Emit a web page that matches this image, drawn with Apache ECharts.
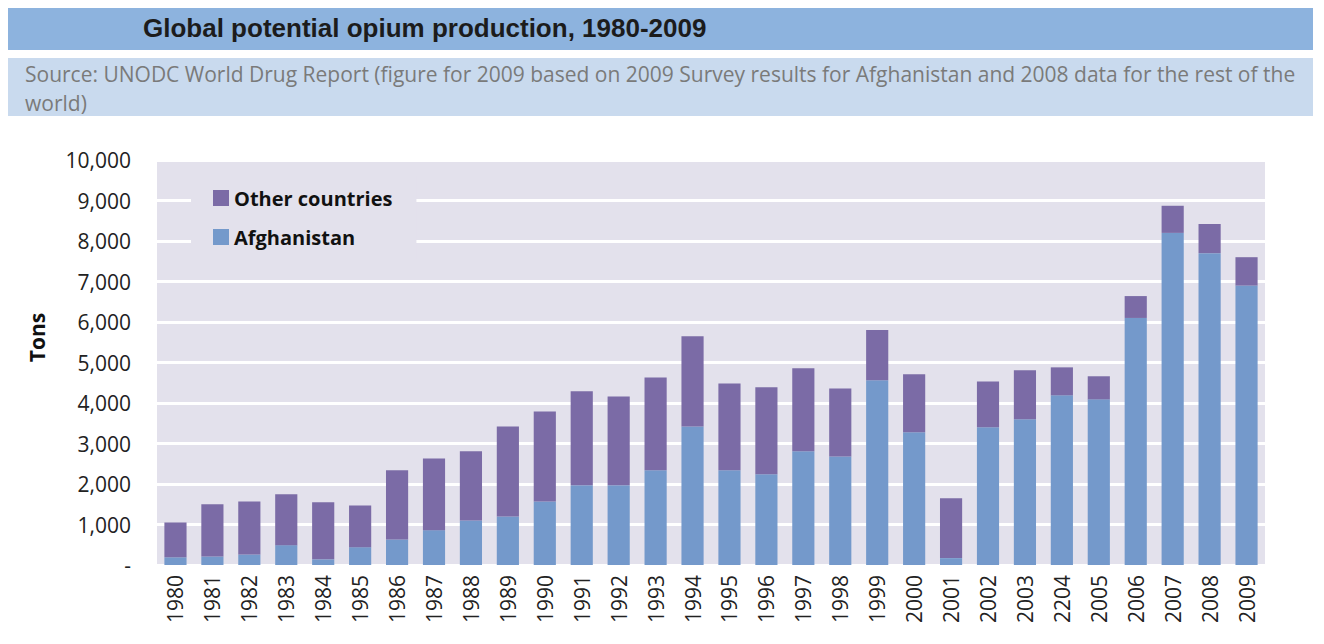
<!DOCTYPE html>
<html>
<head>
<meta charset="utf-8">
<script src="https://cdn.jsdelivr.net/npm/echarts@6/dist/echarts.min.js"></script>
<style>
  html, body { margin: 0; padding: 0; background: #fff; }
  #chart { width: 1324px; height: 644px; }
</style>
</head>
<body>
<div id="chart"></div>
<script>
// years (the source labels 2004 as "2204")
var years = ['1980','1981','1982','1983','1984','1985','1986','1987','1988','1989',
  '1990','1991','1992','1993','1994','1995','1996','1997','1998','1999',
  '2000','2001','2002','2003','2204','2005','2006','2007','2008','2009'];

// tons
var afghanistan = [190, 210, 260, 490, 140, 440, 630, 860, 1100, 1200,
  1570, 1970, 1970, 2340, 3420, 2340, 2240, 2810, 2680, 4560,
  3280, 170, 3400, 3600, 4190, 4090, 6100, 8200, 7700, 6900];
var otherCountries = [860, 1290, 1310, 1260, 1410, 1030, 1710, 1770, 1710, 2220,
  2220, 2320, 2190, 2290, 2230, 2140, 2150, 2050, 1680, 1240,
  1430, 1480, 1130, 1210, 690, 570, 540, 670, 720, 700];

var titleText = 'Global potential opium production, 1980-2009';
var sourceText = 'Source: UNODC World Drug Report (figure for 2009 based on 2009 Survey results for Afghanistan and 2008 data for the rest of the\nworld)';

var chart = echarts.init(document.getElementById('chart'), null, {renderer: 'svg'});

chart.setOption({
  animation: false,
  textStyle: {fontFamily: '"Open Sans", sans-serif'},
  graphic: [
    {type: 'rect', shape: {x: 8, y: 8, width: 1305, height: 42}, style: {fill: '#8db3de'}, z: 0},
    {type: 'rect', shape: {x: 8, y: 58, width: 1305, height: 58}, style: {fill: '#c9daee'}, z: 0},
    {type: 'text', left: 143, top: 15, z: 1,
      style: {text: titleText, fill: '#1c1c1c', font: 'bold 26px "Liberation Sans", Arial, sans-serif'}},
    {type: 'text', left: 25, top: 59, z: 1,
      style: {text: sourceText, fill: '#7a7a7a', font: '21px "Open Sans", sans-serif', lineHeight: 29}}
  ],
  legend: {
    data: ['Other countries', 'Afghanistan'],
    orient: 'vertical',
    left: 191,
    top: 176,
    padding: [12, 24, 12, 22],
    backgroundColor: '#e3e1ec',
    itemWidth: 16,
    itemHeight: 16,
    itemGap: 19,
    icon: 'rect',
    textStyle: {fontSize: 20, fontWeight: 'bold', color: '#111', fontFamily: '"Open Sans", sans-serif'}
  },
  grid: {
    left: 157, right: 59, top: 160, bottom: 79,
    show: true, backgroundColor: '#e3e1ec', borderWidth: 0
  },
  xAxis: {
    type: 'category',
    data: years,
    axisLine: {show: false},
    axisTick: {show: false},
    axisLabel: {rotate: 90, fontSize: 21, color: '#222', margin: 10, interval: 0}
  },
  yAxis: {
    type: 'value',
    min: 0, max: 10000, interval: 1000,
    name: 'Tons',
    nameLocation: 'middle',
    nameRotate: 90,
    nameGap: 110,
    nameTextStyle: {fontSize: 21, fontWeight: 'bold', color: '#111', padding: [0, 0, 0, 50]},
    axisLine: {show: false},
    axisTick: {show: false},
    splitLine: {lineStyle: {color: '#ffffff', width: 3}},
    axisLabel: {
      fontSize: 21, color: '#222', margin: 26,
      formatter: function (v) { return v === 0 ? '-' : v.toLocaleString('en-US'); }
    }
  },
  series: [
    {name: 'Afghanistan', type: 'bar', stack: 'total', barWidth: '60%',
      itemStyle: {color: '#7499cb'}, data: afghanistan},
    {name: 'Other countries', type: 'bar', stack: 'total', barWidth: '60%',
      itemStyle: {color: '#7b6ba6'}, data: otherCountries}
  ]
});
</script>
</body>
</html>
